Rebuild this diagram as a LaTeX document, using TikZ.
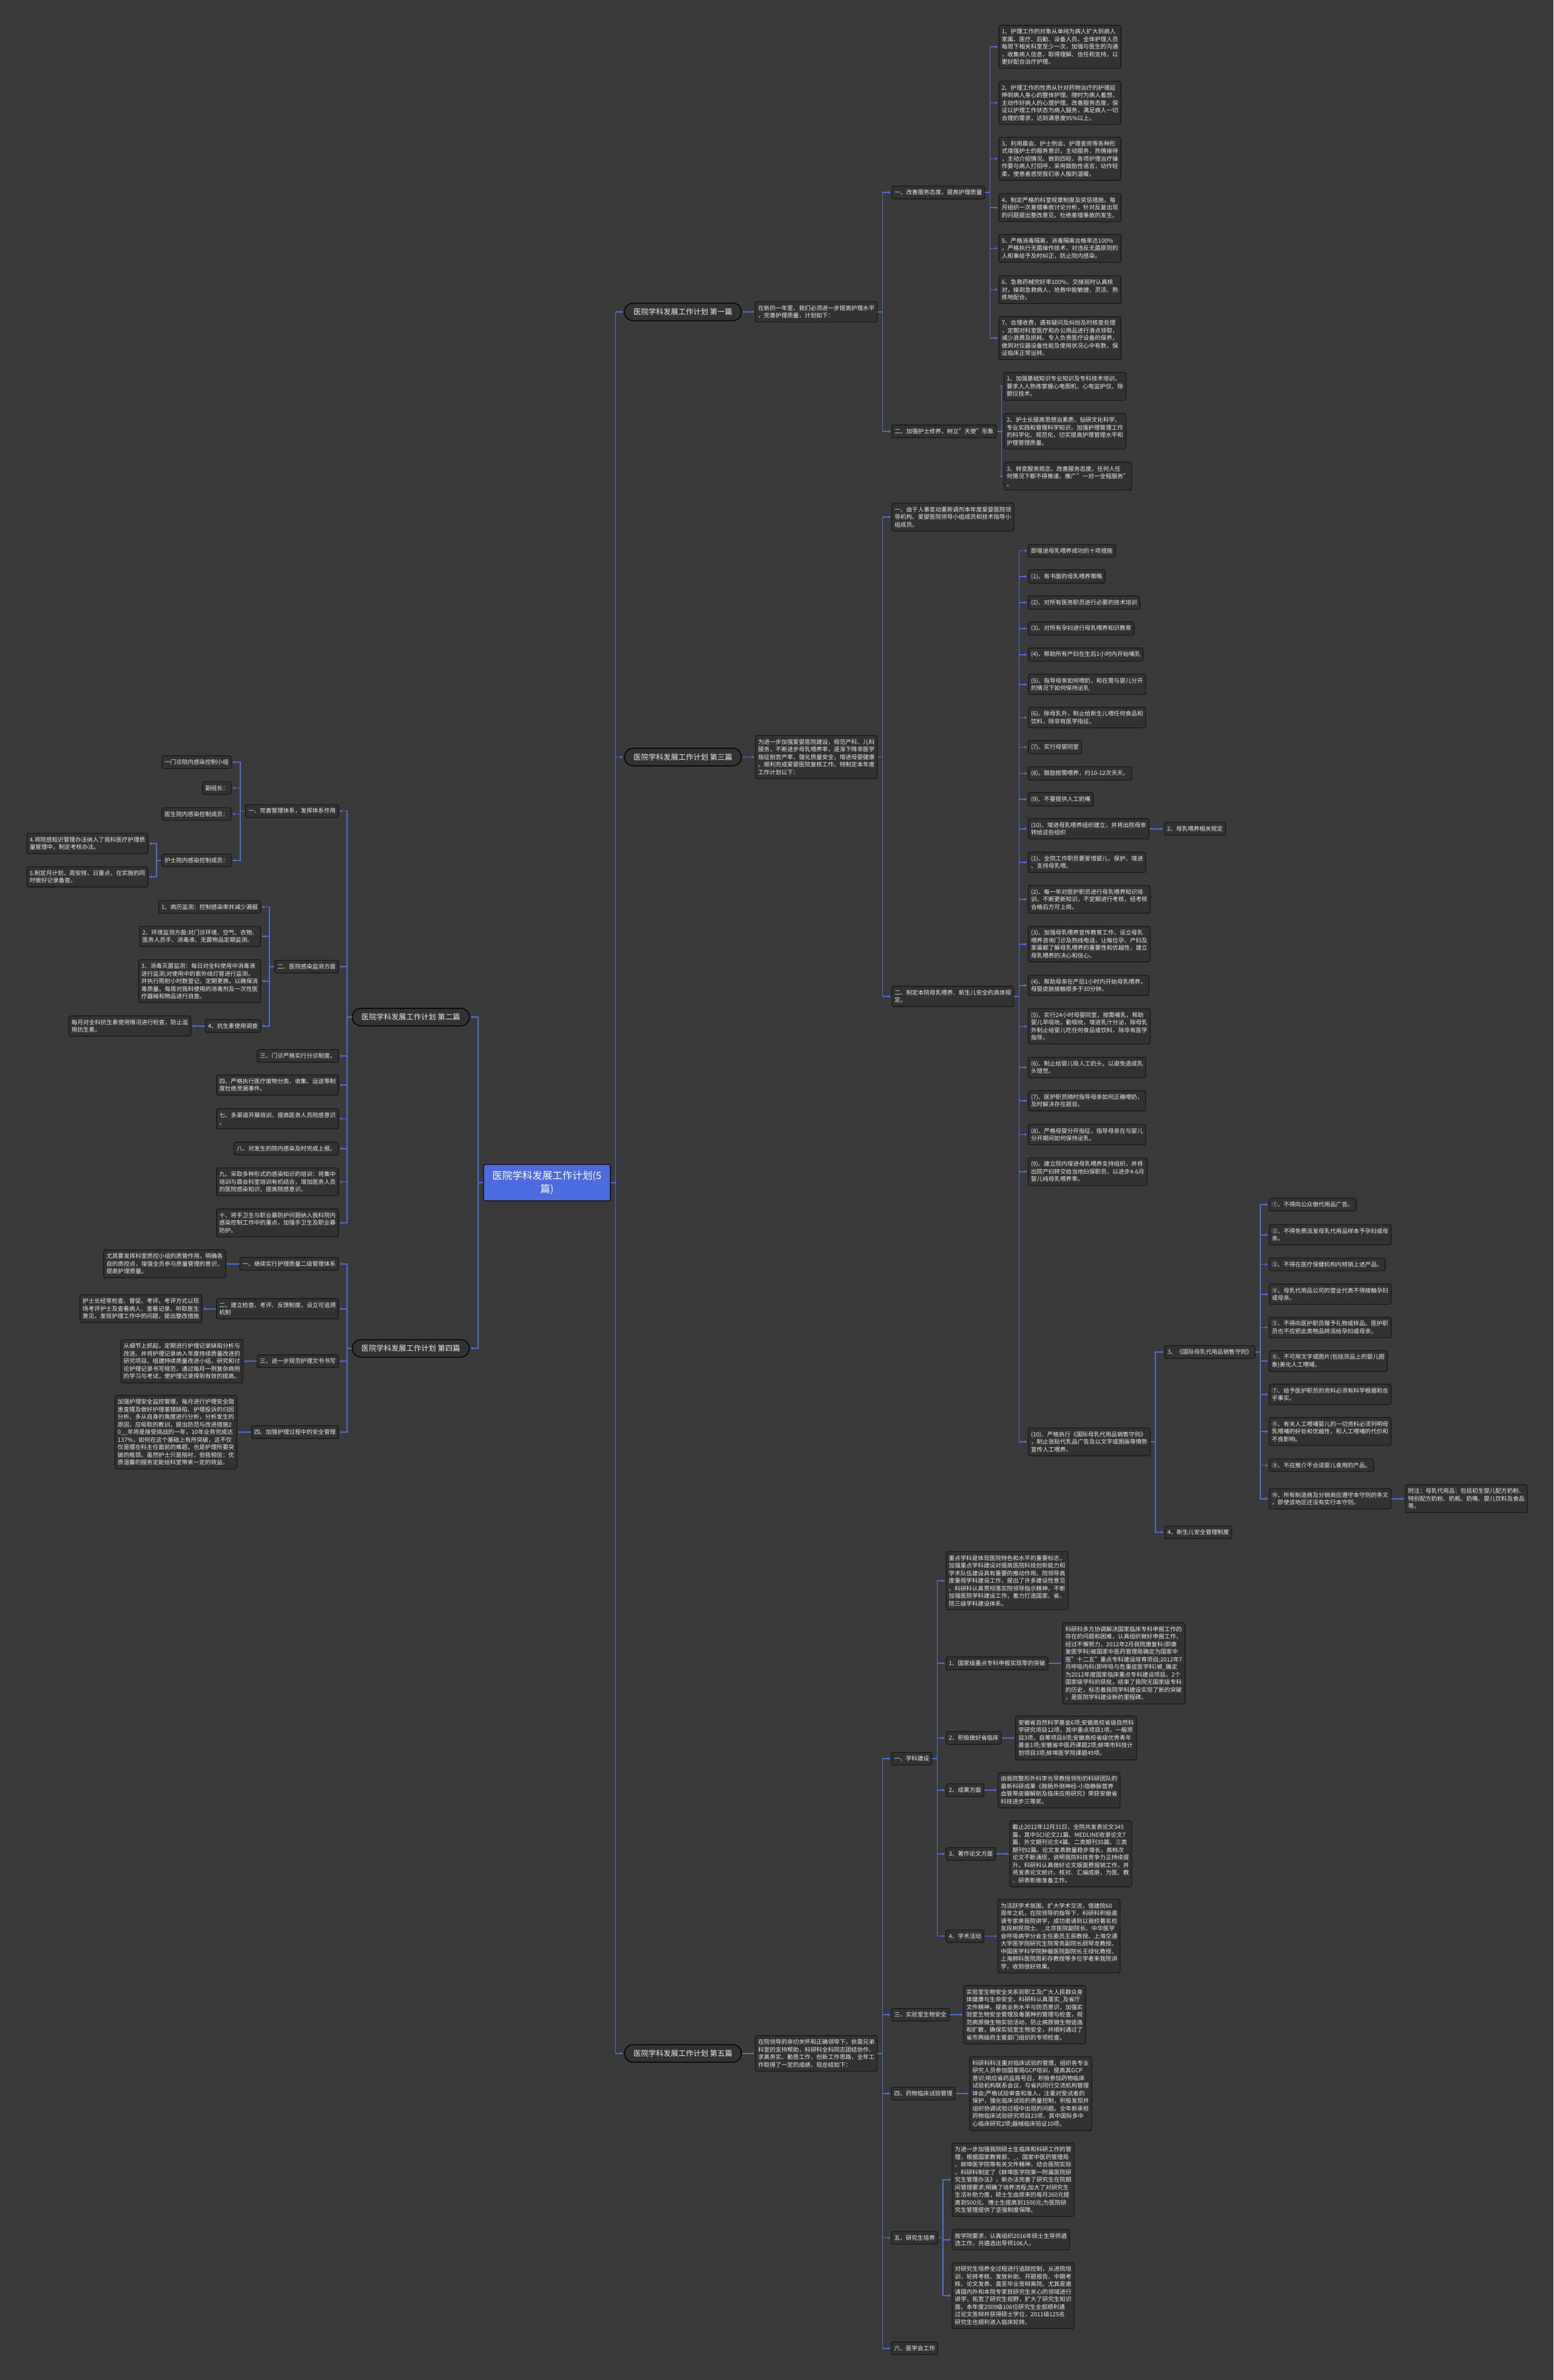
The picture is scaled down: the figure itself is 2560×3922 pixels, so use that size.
\documentclass[tikz,border=0pt]{standalone}
\usepackage{fontspec}
\setmainfont{Noto Sans CJK SC}
\usepackage{xcolor}
\usetikzlibrary{arrows.meta,positioning}
\definecolor{bgcol}{HTML}{3A3A3A}
\definecolor{boxcol}{HTML}{323232}
\definecolor{edgecol}{HTML}{151515}
\definecolor{txtcol}{HTML}{EDEDED}
\definecolor{linkcol}{HTML}{4E6FD6}
\definecolor{rootcol}{HTML}{4B6BDE}
\tikzset{
  item/.style={
    draw=edgecol,
    fill=boxcol,
    text=txtcol,
    rounded corners=3bp,
    line width=1.1bp,
    align=left,
    inner xsep=4.5bp,
    inner ysep=6bp,
    font=\fontsize{9.6bp}{12.5bp}\selectfont
  },
  sheet/.style={
    draw=black,
    fill=boxcol,
    text=txtcol,
    rounded corners=14.5bp,
    line width=1.5bp,
    minimum width=193bp,
    minimum height=29bp,
    inner sep=0pt,
    font=\fontsize{12.3bp}{15bp}\selectfont
  },
  hub/.style={
    draw=edgecol,
    fill=rootcol,
    text=white,
    rounded corners=3bp,
    line width=1.5bp,
    align=center,
    minimum width=209bp,
    minimum height=60bp,
    font=\fontsize{16.5bp}{21.7bp}\selectfont
  },
  link/.style={
    draw=linkcol,
    line width=1.6bp,
    -{Stealth[length=5bp,width=4.5bp]},
    shorten >=1bp
  }
}
\newcommand{\linkR}[2]{\draw[link] (#1.east) -- ++(8,0) |- (#2.west);}
\newcommand{\linkL}[2]{\draw[link] (#1.west) -- ++(-8,0) |- (#2.east);}

\begin{document}
\begin{tikzpicture}[x=1bp,y=-1bp]
\fill[bgcol] (0,0) rectangle (2560,3922);
\useasboundingbox (0,0) rectangle (2560,3922);

\node[hub] (root) at (901.3,1948.8) {医院学科发展工作计划(5\\篇)};

\node[sheet, anchor=west] (t1) at (1028.3,514) {医院学科发展工作计划 第一篇};
\node[sheet, anchor=east] (t2) at (774.3,1676) {医院学科发展工作计划 第二篇};
\node[sheet, anchor=west] (t3) at (1028.3,1247.5) {医院学科发展工作计划 第三篇};
\node[sheet, anchor=east] (t4) at (774.3,2222) {医院学科发展工作计划 第四篇};
\node[sheet, anchor=west] (t5) at (1028.3,3383.8) {医院学科发展工作计划 第五篇};

% 第一篇
\node[item, anchor=west] (p1) at (1244.3,514) {在新的一年里，我们必须进一步提高护理水平\\，完善护理质量，计划如下：};
\node[item, anchor=west] (a) at (1469.3,317.2) {一、改善服务态度，提高护理质量};
\node[item, anchor=west] (b) at (1469.3,710.8) {二、加强护士修养，树立"天使"形象};
\node[item, anchor=west] (a1) at (1645.7,77.2) {1、护理工作的对象从单纯为病人扩大到病人\\家属、医疗、后勤、设备人员。全体护理人员\\每周下相关科室至少一次，加强与医生的沟通\\，收集病人信息，取得理解、信任和支持，以\\更好配合治疗护理。};
\node[item, anchor=west] (a2) at (1645.7,169.5) {2、护理工作的性质从针对药物治疗的护理延\\伸到病人身心的整体护理。随时为病人着想，\\主动作好病人的心理护理。改善服务态度，保\\证以护理工作状态为病人服务，满足病人一切\\合理的需求，达到满意度95\%以上。};
\node[item, anchor=west] (a3) at (1645.7,261.7) {3、利用晨会、护士例会、护理查房等各种形\\式增强护士的服务意识，主动服务，热情接待\\，主动介绍情况。做到四轻，各项护理治疗操\\作要与病人打招呼，采用鼓励性语言，动作轻\\柔，使患者感觉我们亲人般的温暖。};
\node[item, anchor=west] (a4) at (1645.7,342) {4、制定严格的科室规章制度及奖惩措施。每\\月组织一次差错事故讨论分析，针对反复出现\\的问题提出整改意见，杜绝差错事故的发生。};
\node[item, anchor=west] (a5) at (1645.7,409.3) {5、严格消毒隔离，消毒隔离合格率达100\%\\。严格执行无菌操作技术，对违反无菌原则的\\人和事给予及时纠正，防止院内感染。};
\node[item, anchor=west] (a6) at (1645.7,477.3) {6、急救药械完好率100\%，交接班时认真核\\对，接到急救病人，抢救中能敏捷、灵活、熟\\练地配合。};
\node[item, anchor=west] (a7) at (1645.7,557.2) {7、合理收费，遇有疑问及纠纷及时核查处理\\，定期对科室医疗和办公用品进行清点领取，\\减少浪费及损耗。专人负责医疗设备的保养，\\做到对仪器设备性能及使用状况心中有数，保\\证临床正常运转。};
\node[item, anchor=west] (b1) at (1654,636.7) {1、加强基础知识专业知识及专科技术培训，\\要求人人熟练掌握心电图机、心电监护仪、除\\颤仪技术。};
\node[item, anchor=west] (b2) at (1654,710.7) {2、护士长提高思想治素质，钻研文化科学、\\专业实践和管理科学知识，加强护理管理工作\\的科学化、规范化，切实提高护理管理水平和\\护理管理质量。};
\node[item, anchor=west] (b3) at (1654,784.7) {3、转变服务观念，改善服务态度。任何人任\\何情况下都不得推诿。推广"一对一全程服务"\\。};

% 第三篇
\node[item, anchor=west] (p3) at (1244.3,1247.5) {为进一步加强爱婴医院建设，规范产科、儿科\\服务，不断进步母乳喂养率，逐渐下降非医学\\指征剖宫产率，强化质量安全，增进母婴健康\\。顺利完成爱婴医院复核工作。特制定本年度\\工作计划以下：};
\node[item, anchor=west] (s1) at (1469.3,852) {一、由于人事变动重新调剂本年度爱婴医院领\\导机构。爱婴医院领导小组成员和技术指导小\\组成员。};
\node[item, anchor=west] (s2) at (1469.3,1642) {二、制定本院母乳喂养、新生儿安全的具体规\\定。};
\node[item, anchor=west] (c0) at (1694,907.6) {即增进母乳喂养成功的十项措施};
\node[item, anchor=west] (c1) at (1694,950) {(1)、有书面的母乳喂养策略};
\node[item, anchor=west] (c2) at (1694,993) {(2)、对所有医务职员进行必要的技术培训};
\node[item, anchor=west] (c3) at (1694,1035.8) {(3)、对所有孕妇进行母乳喂养知识教育};
\node[item, anchor=west] (c4) at (1694,1078.7) {(4)、帮助所有产妇在生后1小时内开始哺乳};
\node[item, anchor=west] (c5) at (1694,1127.7) {(5)、指导母亲如何喂奶，和在需与婴儿分开\\的情况下如何保持泌乳};
\node[item, anchor=west] (c6) at (1694,1182.5) {(6)、除母乳外，制止给新生儿喂任何食品和\\饮料，除非有医学指征。};
\node[item, anchor=west] (c7) at (1694,1231.3) {(7)、实行母婴同室};
\node[item, anchor=west] (c8) at (1694,1274.5) {(8)、鼓励按需喂养，约10-12次天天。};
\node[item, anchor=west] (c9) at (1694,1317) {(9)、不要提供人工奶嘴};
\node[item, anchor=west] (c10) at (1694,1365.7) {(10)、增进母乳喂养组织建立，并将出院母亲\\转给这些组织};
\node[item, anchor=west] (c10x) at (1918.3,1365.7) {2、母乳喂养相关规定};
\node[item, anchor=west] (d1) at (1694,1421) {(1)、全院工作职员要爱惜婴儿，保护、增进\\、支持母乳喂。};
\node[item, anchor=west] (d2) at (1694,1482) {(2)、每一年对医护职员进行母乳喂养知识培\\训，不断更新知识，不定期进行考核，经考核\\合格后方可上岗。};
\node[item, anchor=west] (d3) at (1694,1556) {(3)、加强母乳喂养宣传教育工作，设立母乳\\喂养咨询门诊及热线电话，让每位孕、产妇及\\家属都了解母乳喂养的重要性和优越性，建立\\母乳喂养的决心和信心。};
\node[item, anchor=west] (d4) at (1694,1623.8) {(4)、帮助母亲在产后1小时内开始母乳喂养，\\母婴皮肤接触很多于30分钟。};
\node[item, anchor=west] (d5) at (1694,1691.3) {(5)、实行24小时母婴同室，按需哺乳，帮助\\婴儿早吸吮，勤吸吮，增进乳汁分泌，除母乳\\外制止给婴儿吃任何食品或饮料，除非有医学\\指导。};
\node[item, anchor=west] (d6) at (1694,1759) {(6)、制止给婴儿吸人工奶头，以避免造成乳\\头错觉。};
\node[item, anchor=west] (d7) at (1694,1814) {(7)、医护职员随时指导母亲如何正确喂奶，\\及时解决存在题目。};
\node[item, anchor=west] (d8) at (1694,1869.6) {(8)、严格母婴分开指征，指导母亲在与婴儿\\分开期间如何保持泌乳。};
\node[item, anchor=west] (d9) at (1694,1930.8) {(9)、建立院内增进母乳喂养支持组织，并将\\出院产妇转交给当地妇保职员，以进步4-6月\\婴儿纯母乳喂养率。};
\node[item, anchor=west] (d10) at (1694,2376) {(10)、严格执行《国际母乳代用品销售守则》\\，制止张贴代乳品广告及以文字或图画等情势\\宣传人工喂养。};
\node[item, anchor=west] (e3) at (1919,2228) {3、《国际母乳代用品销售守则》};
\node[item, anchor=west] (e4) at (1919,2525) {4、新生儿安全管理制度};
\node[item, anchor=west] (r1) at (2091,1985) {①、不得向公众做代用品广告。};
\node[item, anchor=west] (r2) at (2091,2034.8) {②、不得免费派发母乳代用品样本予孕妇或母\\亲。};
\node[item, anchor=west] (r3) at (2091,2083.6) {③、不得在医疗保健机构内倾销上述产品。};
\node[item, anchor=west] (r4) at (2091,2132.7) {④、母乳代用品公司的营业代表不得接触孕妇\\或母亲。};
\node[item, anchor=west] (r5) at (2091,2187.5) {⑤、不得向医护职员赠予礼物或样品。医护职\\员也不应把此类物品转派给孕妇或母亲。};
\node[item, anchor=west] (r6) at (2091,2243) {⑥、不可用文字或图片(包括货品上的婴儿图\\象)美化人工喂哺。};
\node[item, anchor=west] (r7) at (2091,2297.7) {⑦、给予医护职员的资料必须有科学根据和合\\乎事实。};
\node[item, anchor=west] (r8) at (2091,2358.9) {⑧、有关人工喂哺婴儿的一切资料必须列明母\\乳喂哺的好处和优越性，和人工喂哺的代价和\\不良影响。};
\node[item, anchor=west] (r9) at (2091,2414.6) {⑨、不应推介不合适婴儿食用的产品。};
\node[item, anchor=west] (r10) at (2091,2469.7) {⑩、所有制造商及分销商应遵守本守则的条文\\，即使该地区还没有实行本守则。};
\node[item, anchor=west] (r10x) at (2315.5,2469.7) {附注：母乳代用品：包括初生婴儿配方奶粉、\\特别配方奶粉、奶瓶、奶嘴、婴儿饮料及食品\\等。};

% 第二篇
\node[item, anchor=east] (f1) at (558.3,1336.4) {一、完善管理体系，发挥体系作用};
\node[item, anchor=east] (f2) at (558.3,1592.8) {二、医院感染监测方面};
\node[item, anchor=east] (f3) at (558.3,1740) {三、门诊严格实行分诊制度。};
\node[item, anchor=east] (f4) at (558.3,1788) {四、严格执行医疗废物分类、收集、运送等制\\度杜绝泄漏事件。};
\node[item, anchor=east] (f7) at (558.3,1843.6) {七、多渠道开展培训，提高医务人员院感意识\\。};
\node[item, anchor=east] (f8) at (558.3,1892.7) {八、对发生的院内感染及时完成上报。};
\node[item, anchor=east] (f9) at (558.3,1947.6) {九、采取多种形式的感染知识的培训：将集中\\培训与晨会科室培训有机结合，增加医务人员\\的医院感染知识，提高院感意识。};
\node[item, anchor=east] (f10) at (558.3,2015.2) {十、将手卫生与职业暴防护问题纳入我科院内\\感染控制工作中的重点，加强手卫生及职业暴\\防护。};
\node[item, anchor=east] (g1) at (381.7,1256) {一门诊院内感染控制小组};
\node[item, anchor=east] (g2) at (381.7,1298.6) {副组长：};
\node[item, anchor=east] (g3) at (381.7,1341.4) {医生院内感染控制成员：};
\node[item, anchor=east] (g4) at (381.7,1417.7) {护士院内感染控制成员：};
\node[item, anchor=east] (h1) at (244.3,1390) {4.将院感知识管理办法纳入了我科医疗护理质\\量管理中，制定考核办法。};
\node[item, anchor=east] (h2) at (244.3,1445) {5.制定月计划，周安排，日重点，在实施的同\\时做好记录备查。};
\node[item, anchor=east] (i1) at (430,1494.6) {1、病历监测：控制感染率并减少漏报};
\node[item, anchor=east] (i2) at (430,1543) {2、环境监测方面:对门诊环境、空气、衣物、\\医务人员手、消毒液、无菌物品定期监测。};
\node[item, anchor=east] (i3) at (430,1616.8) {3、消毒灭菌监测：每日对全科使用中消毒液\\进行监测;对使用中的紫外线灯管进行监测，\\并执行照射小时数登记，定期更换，以确保消\\毒质量。每周对我科使用的消毒剂及一次性医\\疗器械和物品进行自查。};
\node[item, anchor=east] (i4) at (430,1690.7) {4、抗生素使用调查};
\node[item, anchor=east] (i4x) at (315,1690.7) {每月对全科抗生素使用情况进行检查，防止滥\\用抗生素。};

% 第四篇
\node[item, anchor=east] (j1) at (558.3,2082.7) {一、继续实行护理质量二级管理体系};
\node[item, anchor=east] (j1x) at (372.3,2082.7) {尤其要发挥科室质控小组的质管作用，明确各\\自的质控点，增强全员参与质量管理的意识，\\提高护理质量。};
\node[item, anchor=east] (j2) at (558.3,2156.7) {二、建立检查、考评、反馈制度，设立可追溯\\机制};
\node[item, anchor=east] (j2x) at (333.3,2156.7) {护士长经常检查、督促、考评。考评方式以现\\场考评护士及查看病人、查看记录、听取医生\\意见，发现护理工作中的问题，提出整改措施};
\node[item, anchor=east] (j3) at (558.3,2243.2) {三、进一步规范护理文书书写};
\node[item, anchor=east] (j3x) at (400.7,2243.2) {从细节上抓起，定期进行护理记录缺陷分析与\\改进。并将护理记录纳入年度持续质量改进的\\研究项目。组建持续质量改进小组，研究和讨\\论护理记录书写规范，通过每月一例复杂病例\\的学习与考试，使护理记录得到有效的提高。};
\node[item, anchor=east] (j4) at (558.3,2360) {四、加强护理过程中的安全管理};
\node[item, anchor=east] (j4x) at (391,2360) {加强护理安全监控管理，每月进行护理安全隐\\患查摆及做好护理差错缺陷、护理投诉的归因\\分析，多从自身的角度进行分析，分析发生的\\原因，应吸取的教训，提出防范与改进措施2\\0\_\_年将是接受挑战的一年，10年业务完成达\\137\%，如何在这个基础上有所突破，这不仅\\仅是摆在科主任面前的难题，也是护理所要突\\破的瓶颈。虽然护士只是陪衬，但我相信：优\\质温馨的服务定能给科室带来一定的效益。};

% 第五篇
\node[item, anchor=west] (p5) at (1244.3,3383.8) {在院领导的亲切关怀和正确领导下，依靠兄弟\\科室的支持帮助，科研科全科同志团结协作、\\求真务实、勤恳工作，创新工作思路，全年工\\作取得了一定的成绩，现总结如下：};
\node[item, anchor=west] (k1) at (1468.6,2898) {一、学科建设};
\node[item, anchor=west] (k3) at (1468.6,3320) {三、实验室生物安全};
\node[item, anchor=west] (k4) at (1468.6,3450) {四、药物临床试验管理};
\node[item, anchor=west] (k5) at (1468.6,3687.6) {五、研究生培养};
\node[item, anchor=west] (k6) at (1468.6,3869.7) {六、医学会工作};
\node[item, anchor=west] (m0) at (1558.6,2604.8) {重点学科是体现医院特色和水平的重要标志，\\加强重点学科建设对提高医院科技创新能力和\\学术队伍建设具有重要的推动作用。院领导高\\度重视学科建设工作，提出了许多建设性意见\\。科研科认真贯彻落实院领导指示精神，不断\\加强医院学科建设工作，着力打造国家、省、\\院三级学科建设体系。};
\node[item, anchor=west] (m1) at (1558.6,2741) {1、国家级重点专科申报实现零的突破};
\node[item, anchor=west] (m1x) at (1750.7,2741) {科研科多方协调解决国家临床专科申报工作的\\存在的问题和困难，认真组织做好申报工作，\\经过不懈努力，2012年2月我院康复科(即康\\复医学科)被国家中医药管理局确定为国家中\\医"十二五"重点专科建设培育项目;2012年7\\月呼吸内科(即呼吸与危重症医学科)被\_确定\\为2012年度国家临床重点专科建设项目。2个\\国家级学科的获批，结束了我院无国家级专科\\的历史，标志着我院学科建设实现了新的突破\\，是医院学科建设新的里程碑。};
\node[item, anchor=west] (m2) at (1558.6,2864) {2、积极做好省临床};
\node[item, anchor=west] (m2x) at (1673.2,2864) {安徽省自然科学基金6项;安徽高校省级自然科\\学研究项目12项，其中重点项目1项，一般项\\目3项，自筹项目8项;安徽高校省级优秀青年\\基金1项;安徽省中医药课题2项;蚌埠市科技计\\划项目3项;蚌埠医学院课题49项。};
\node[item, anchor=west] (m3) at (1558.6,2950) {2、成果方面};
\node[item, anchor=west] (m3x) at (1644.3,2950) {由我院整形外科李光早教授领衔的科研团队的\\最新科研成果《腓肠外侧神经-小隐静脉营养\\血管蒂皮瓣解剖及临床应用研究》荣获安徽省\\科技进步三等奖。};
\node[item, anchor=west] (m4) at (1558.6,3055) {3、著作论文方面};
\node[item, anchor=west] (m4x) at (1663.6,3055) {截止2012年12月31日，全院共发表论文345\\篇，其中SCI论文21篇、MEDLINE收录论文7\\篇、外文期刊论文4篇、二类期刊35篇、三类\\期刊92篇。论文发表数量稳步增长，高档次\\论文不断涌现，说明我院科技竞争力正持续提\\升。科研科认真做好论文版面费报销工作，并\\将发表论文统计、核对、汇编成册，为医、教\\、研表彰做准备工作。};
\node[item, anchor=west] (m5) at (1558.6,3190.5) {4、学术活动};
\node[item, anchor=west] (m5x) at (1644.3,3190.5) {为活跃学术氛围，扩大学术交流，借建院60\\周年之机，在院领导的指导下，科研科积极邀\\请专家来我院讲学，成功邀请到以我校著名校\\友段树民院士、\_北京医院副院长、中华医学\\会呼吸病学分会主任委员王辰教授、上海交通\\大学医学院研究生院常务副院长顾琴龙教授、\\中国医学科学院肿瘤医院副院长王绿化教授、\\上海肺科医院周彩存教授等多位学者来我院讲\\学，收到很好效果。};
\node[item, anchor=west] (k3x) at (1587.5,3320) {实验室生物安全关系到职工及广大人民群众身\\体健康与生命安全，科研科认真落实\_及省厅\\文件精神，提高业务水平与防范意识，加强实\\验室生物安全管理及毒菌种的管理与检查，规\\范病原微生物实验活动，防止病原微生物逃逸\\和扩散，确保实验室生物安全，并顺利通过了\\省市两级府主管部门组织的专项检查。};
\node[item, anchor=west] (k4x) at (1597.5,3450) {科研科科注重对临床试验的管理，组织各专业\\研究人员参加国家局GCP培训，提高其GCP\\意识;响应省药监局号召，积极参加药物临床\\试验机构联系会议，与省内同行交流机构管理\\体会;严格试验审查和准入，注重对受试者的\\保护，强化临床试验的质量控制，积极发现并\\组织协调试验过程中出现的问题。全年新承担\\药物临床试验研究项目23项，其中国际多中\\心临床研究2项;器械临床验证10项。};
\node[item, anchor=west] (n1) at (1568.6,3592) {为进一步加强我院硕士生临床和科研工作的管\\理，根据国家教育部、\_、国家中医药管理局\\、蚌埠医学院等有关文件精神，结合医院实际\\，科研科制定了《蚌埠医学院第一附属医院研\\究生管理办法》，新办法完善了研究生在院期\\间管理要求;明确了培养流程;加大了对研究生\\生活补助力度，硕士生由原来的每月260元提\\高到500元、博士生提高到1500元;为医院研\\究生管理提供了坚强制度保障。};
\node[item, anchor=west] (n2) at (1568.6,3690.8) {按学院要求，认真组织2016年硕士生导师遴\\选工作，共遴选出导师106人。};
\node[item, anchor=west] (n3) at (1568.6,3783) {对研究生培养全过程进行追踪控制，从进院培\\训，轮转考核、发放补助、开题报告、中期考\\核、论文发表、直至毕业答辩离院。尤其是邀\\请国内外和本院专家就研究生关心的领域进行\\讲学，拓宽了研究生视野，扩大了研究生知识\\面。本年度2009级106位研究生全部顺利通\\过论文答辩并获得硕士学位，2011级125名\\研究生也顺利进入临床轮转。};

% connectors
\linkR{root}{t1} \linkR{root}{t3} \linkR{root}{t5}
\linkL{root}{t2} \linkL{root}{t4}
\linkR{t1}{p1} \linkR{p1}{a} \linkR{p1}{b}
\linkR{a}{a1} \linkR{a}{a2} \linkR{a}{a3} \linkR{a}{a4} \linkR{a}{a5} \linkR{a}{a6} \linkR{a}{a7}
\linkR{b}{b1} \linkR{b}{b2} \linkR{b}{b3}
\linkR{t3}{p3} \linkR{p3}{s1} \linkR{p3}{s2}
\linkR{s2}{c0} \linkR{s2}{c1} \linkR{s2}{c2} \linkR{s2}{c3} \linkR{s2}{c4} \linkR{s2}{c5}
\linkR{s2}{c6} \linkR{s2}{c7} \linkR{s2}{c8} \linkR{s2}{c9} \linkR{s2}{c10}
\linkR{s2}{d1} \linkR{s2}{d2} \linkR{s2}{d3} \linkR{s2}{d4} \linkR{s2}{d5}
\linkR{s2}{d6} \linkR{s2}{d7} \linkR{s2}{d8} \linkR{s2}{d9} \linkR{s2}{d10}
\linkR{c10}{c10x}
\linkR{d10}{e3} \linkR{d10}{e4}
\linkR{e3}{r1} \linkR{e3}{r2} \linkR{e3}{r3} \linkR{e3}{r4} \linkR{e3}{r5}
\linkR{e3}{r6} \linkR{e3}{r7} \linkR{e3}{r8} \linkR{e3}{r9} \linkR{e3}{r10}
\linkR{r10}{r10x}
\linkL{t2}{f1} \linkL{t2}{f2} \linkL{t2}{f3} \linkL{t2}{f4}
\linkL{t2}{f7} \linkL{t2}{f8} \linkL{t2}{f9} \linkL{t2}{f10}
\linkL{f1}{g1} \linkL{f1}{g2} \linkL{f1}{g3} \linkL{f1}{g4}
\linkL{g4}{h1} \linkL{g4}{h2}
\linkL{f2}{i1} \linkL{f2}{i2} \linkL{f2}{i3} \linkL{f2}{i4}
\linkL{i4}{i4x}
\linkL{t4}{j1} \linkL{t4}{j2} \linkL{t4}{j3} \linkL{t4}{j4}
\linkL{j1}{j1x} \linkL{j2}{j2x} \linkL{j3}{j3x} \linkL{j4}{j4x}
\linkR{t5}{p5}
\linkR{p5}{k1} \linkR{p5}{k3} \linkR{p5}{k4} \linkR{p5}{k5} \linkR{p5}{k6}
\linkR{k1}{m0} \linkR{k1}{m1} \linkR{k1}{m2} \linkR{k1}{m3} \linkR{k1}{m4} \linkR{k1}{m5}
\linkR{m1}{m1x} \linkR{m2}{m2x} \linkR{m3}{m3x} \linkR{m4}{m4x} \linkR{m5}{m5x}
\linkR{k3}{k3x} \linkR{k4}{k4x}
\linkR{k5}{n1} \linkR{k5}{n2} \linkR{k5}{n3}
\end{tikzpicture}
\end{document}
